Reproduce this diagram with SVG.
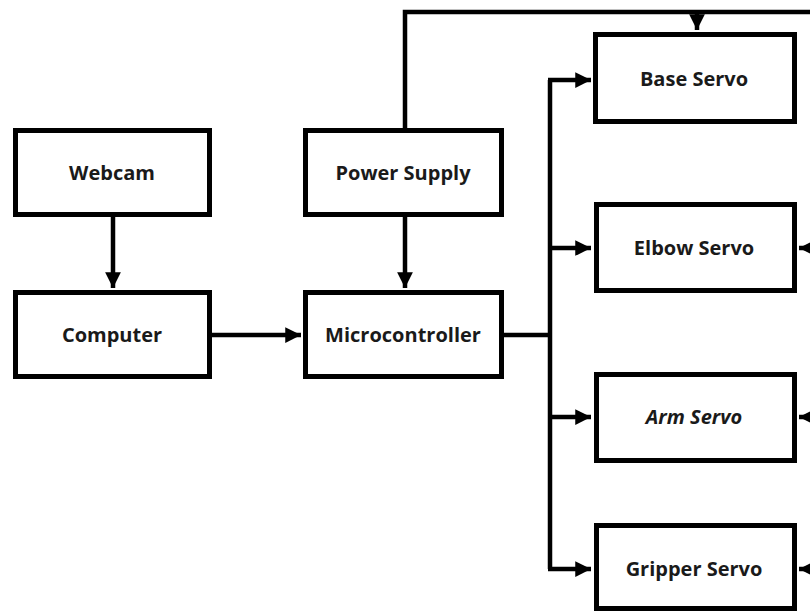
<svg xmlns="http://www.w3.org/2000/svg" width="810" height="612" viewBox="0 0 810 612">
<style>
.box{fill:#fff;stroke:#000;stroke-width:5}
.lbl{font-family:"Open Sans","Liberation Sans",sans-serif;font-weight:bold;font-size:20px;fill:#1a1a1a;text-anchor:middle;dominant-baseline:central}
.ln{fill:none;stroke:#000;stroke-width:4.5}
</style>
<defs>
<marker id="ah" viewBox="0 0 10 10" refX="10" refY="5" markerWidth="3.5" markerHeight="3.5" orient="auto" markerUnits="strokeWidth">
<path d="M0,0 L10,5 L0,10 z" fill="#000"/>
</marker>
</defs>
<rect width="810" height="612" fill="#fff"/>
<g id="connectors">
<path class="ln" d="M113,217 V288" marker-end="url(#ah)"/>
<path class="ln" d="M212,335 H301" marker-end="url(#ah)"/>
<path class="ln" d="M405,217 V288" marker-end="url(#ah)"/>
<path class="ln" d="M405,128 V12 H812"/>
<path class="ln" d="M697,12 V30" marker-end="url(#ah)"/>
<path class="ln" d="M504,335 H550"/>
<path class="ln" d="M550,569 V80"/>
<path class="ln" d="M548,80 H591" marker-end="url(#ah)"/>
<path class="ln" d="M550,248 H591" marker-end="url(#ah)"/>
<path class="ln" d="M550,417 H591" marker-end="url(#ah)"/>
<path class="ln" d="M548,569 H591" marker-end="url(#ah)"/>
<path class="ln" d="M815,248 H799" marker-end="url(#ah)"/>
<path class="ln" d="M815,417 H799" marker-end="url(#ah)"/>
<path class="ln" d="M815,569 H799" marker-end="url(#ah)"/>
</g>
<g id="webcam"><rect class="box" x="15.5" y="130.5" width="194" height="84"/><text class="lbl" x="112" y="172">Webcam</text></g>
<g id="computer"><rect class="box" x="15.5" y="292.5" width="194" height="84"/><text class="lbl" x="112" y="334">Computer</text></g>
<g id="power"><rect class="box" x="305.5" y="130.5" width="196" height="84"/><text class="lbl" x="403" y="172">Power Supply</text></g>
<g id="micro"><rect class="box" x="305.5" y="292.5" width="196" height="84"/><text class="lbl" x="403" y="334">Microcontroller</text></g>
<g id="base"><rect class="box" x="595.5" y="34.5" width="199" height="87"/><text class="lbl" x="694" y="78">Base Servo</text></g>
<g id="elbow"><rect class="box" x="596.5" y="204.5" width="198" height="86"/><text class="lbl" x="694" y="247">Elbow Servo</text></g>
<g id="arm"><rect class="box" x="596.5" y="374.5" width="198" height="86"/><text class="lbl" x="694" y="416" font-style="italic">Arm Servo</text></g>
<g id="gripper"><rect class="box" x="596.5" y="525.5" width="198" height="83"/><text class="lbl" x="694" y="568">Gripper Servo</text></g>
</svg>
